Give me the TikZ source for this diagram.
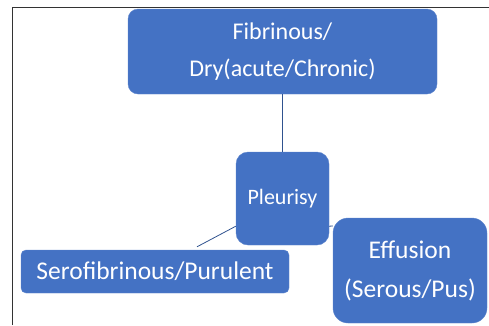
\documentclass[tikz,border=0pt]{standalone}
\usepackage{fontspec}
\setmainfont{Carlito}
\usetikzlibrary{positioning,calc}
\definecolor{boxblue}{HTML}{4472C4}
\definecolor{lineblue}{HTML}{2F528F}
\tikzset{
    block/.style={rectangle, rounded corners=#1, fill=boxblue, draw=boxblue!85!white, text=white, inner sep=0pt, align=center},
    block/.default=10pt,
    line/.style={draw=lineblue, thick},
}
\begin{document}
\begin{tikzpicture}
        [x=1pt,y=-1pt]
        \useasboundingbox (0,0) rectangle (489,325);
        \draw[black!80] (12,325) -- (12,7) -- (489,7);

        % Nodes of the tree
        \node[block=10pt, minimum width=309pt, minimum height=85pt, font=\fontsize{24}{37}\selectfont] (dry) at (282.5,51.5) {Fibrinous/\\Dry(acute/Chronic)};
        \node[block=12pt, minimum width=93pt, minimum height=93pt, font=\fontsize{22}{30}\selectfont] (pleurisy) at (282.5,198.5) {Pleurisy};
        \node[block=5pt, minimum width=268pt, minimum height=43pt, font=\fontsize{25.5}{30}\selectfont] (sero) at (155,271.5) {Serofibrinous/Purulent};
        \node[block=15pt, minimum width=154pt, minimum height=105pt, font=\fontsize{25.5}{39}\selectfont] (effusion) at (410,270.5) {Effusion\\(Serous/Pus)};

        % Lines
        \draw[line] (dry) -- (pleurisy);
        \draw[line] ($(pleurisy.south west)+(0,-19)$) -- ($(sero.north)+(42,-3)$);
        \draw[line] ($(pleurisy.south east)+(0,-19)$) -- ($(effusion.west)+(0,-44.5)$);

\end{tikzpicture}
\end{document}
